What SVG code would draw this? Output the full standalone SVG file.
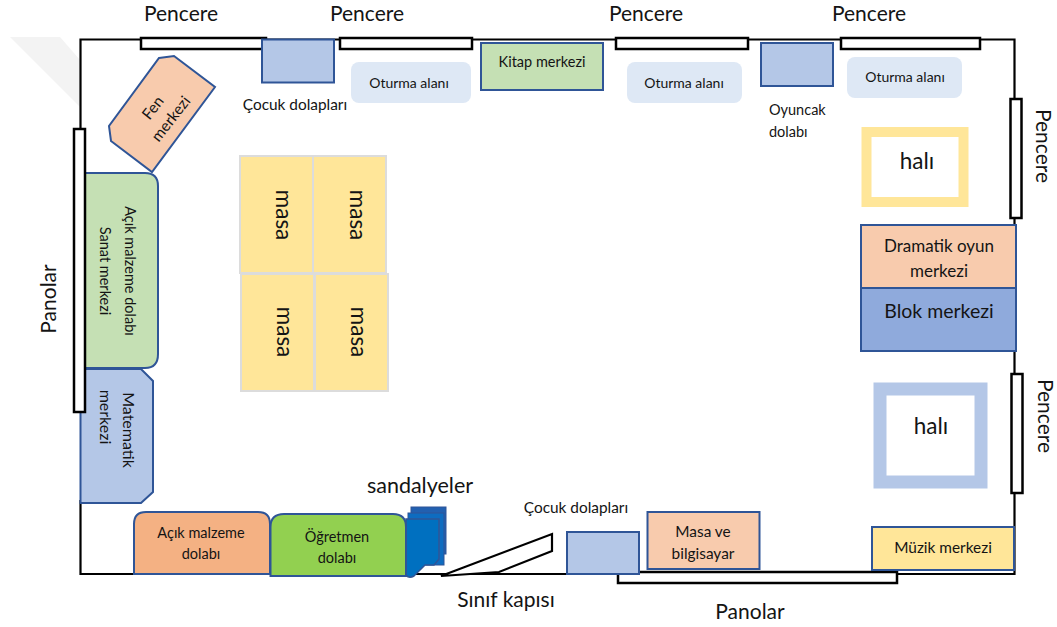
<svg xmlns="http://www.w3.org/2000/svg" width="1057" height="627" viewBox="0 0 1057 627">
<style>
text{font-family:Lato,"Liberation Sans",sans-serif;fill:#141414;text-anchor:middle}
.s{text-anchor:start}
.t14{font-size:14px}.t12{font-size:14.500px}.t15{font-size:15.400px}.t20{font-size:21px}.t22{font-size:22.500px}
.wall{fill:none;stroke:#000;stroke-width:2.200}
.win{fill:#fff;stroke:#000;stroke-width:2.500}
.b{stroke:#2f5597;stroke-width:2}
.blue{fill:#b4c7e7}.peach{fill:#f8cbad}.green{fill:#c5e0b4}.yellow{fill:#ffe699}
.seat{fill:#dee8f5}
.masa{fill:#ffe699;stroke:#dcdcdc;stroke-width:2}
</style>
<rect width="1057" height="627" fill="#fff"/>
<polygon id="watermark" points="10,37 60,37 80,60 80,107" fill="#f3f3f3"/>
<g id="connectors">
<path id="room-walls" class="wall" d="M80.500 129V39.500H1014.500V574H80.500V500"/>
</g>
<g id="windows">
<rect id="window-1" class="win" x="141" y="38" width="125" height="11"/>
<rect id="window-2" class="win" x="340" y="38" width="132" height="11"/>
<rect id="window-3" class="win" x="616" y="38" width="132" height="11"/>
<rect id="window-4" class="win" x="841" y="38" width="139" height="11"/>
<rect id="window-5" class="win" x="1010.500" y="99" width="11" height="119"/>
<rect id="window-6" class="win" x="1011.500" y="374" width="11" height="119"/>
<text class="t20" x="181" y="21">Pencere</text>
<text class="t20" x="367" y="21">Pencere</text>
<text class="t20" x="646" y="21">Pencere</text>
<text class="t20" x="869" y="21">Pencere</text>
<text class="t20" transform="translate(1036,146) rotate(90)">Pencere</text>
<text class="t20" transform="translate(1038,416) rotate(90)">Pencere</text>
</g>
<g id="panel-bottom"><rect class="win" x="618" y="572" width="279" height="11"/><text class="t20" x="750" y="619">Panolar</text></g>
<g id="cocuk-dolaplari-1"><rect class="blue b" x="262" y="39.500" width="72" height="43"/><text class="t15" x="295" y="110">Çocuk dolapları</text></g>
<g id="oturma-1"><rect class="seat" x="351" y="62" width="120" height="41" rx="8"/><text class="t14" x="409" y="88">Oturma alanı</text></g>
<g id="kitap"><rect class="green b" x="481" y="43" width="122" height="47"/><text class="t12" x="542" y="67">Kitap merkezi</text></g>
<g id="oturma-2"><rect class="seat" x="627" y="62" width="115" height="41" rx="8"/><text class="t14" x="684" y="88">Oturma alanı</text></g>
<g id="oyuncak"><rect class="blue b" x="761" y="43" width="72" height="43"/><text class="t12 s" x="769" y="115">Oyuncak</text><text class="t12 s" x="769" y="137">dolabı</text></g>
<g id="oturma-3"><rect class="seat" x="847" y="57" width="115" height="41" rx="8"/><text class="t14" x="905" y="82">Oturma alanı</text></g>
<g id="hali-1"><rect x="866.500" y="132" width="97" height="70" fill="#fff" stroke="#ffe699" stroke-width="10"/><text class="t22" x="917" y="169">halı</text></g>
<g id="dramatik"><rect class="peach b" x="861" y="225" width="155" height="63"/><text x="939" y="252" font-size="17">Dramatik oyun</text><text x="939" y="277" font-size="17">merkezi</text></g>
<g id="blok"><rect x="861" y="288" width="155" height="63" fill="#8faadc" stroke="#2f5597" stroke-width="2"/><text x="939" y="318" font-size="19.500">Blok merkezi</text></g>
<g id="hali-2"><rect x="880" y="389" width="101" height="93" fill="#fff" stroke="#b4c7e7" stroke-width="13"/><text class="t22" x="931" y="434">halı</text></g>
<g id="muzik"><rect class="yellow b" x="872" y="527" width="142" height="43"/><text class="t15" x="943" y="553">Müzik merkezi</text></g>
<g id="masa-bilgisayar"><rect class="peach b" x="647.500" y="512" width="112" height="57"/><text class="t15" x="703" y="537">Masa ve</text><text class="t15" x="703" y="559">bilgisayar</text></g>
<g id="cocuk-dolaplari-2"><rect class="blue b" x="567" y="532" width="72" height="42"/><text class="t15" x="576" y="513">Çocuk dolapları</text></g>
<g id="kapi"><path d="M441 576L552 534V551L499 572Z" fill="#fff" stroke="#000" stroke-width="2.200"/><text x="506" y="607" font-size="21">Sınıf kapısı</text></g>
<g id="sandalyeler">
<rect x="411" y="507" width="35" height="47" fill="#2260b0" stroke="#2f5597"/>
<rect x="408" y="513" width="36" height="52" fill="#0e6cc0" stroke="#2f5597"/>
<path d="M406 519H439V559L434 565H425L414 576Q409 579 406 575Z" fill="#0070c0" stroke="#2f5597" stroke-width="1.500"/>
<text x="420" y="493" font-size="21.500">sandalyeler</text>
</g>
<g id="ogretmen"><path class="b" d="M270.500 576V527Q270.500 514 284 514H393Q406 514 406 527V576Z" fill="#92d050"/><text class="t12" x="337" y="542">Öğretmen</text><text class="t12" x="337" y="563">dolabı</text></g>
<g id="acik-malzeme"><path class="b" d="M134 574V524Q134 512 146 512H258Q270 512 270 524V574Z" fill="#f4b183"/><text class="t12" x="201" y="538">Açık malzeme</text><text class="t12" x="201" y="559">dolabı</text></g>
<g id="matematik"><path class="blue b" d="M80.500 369H141L153 381V492L141 503H80.500Z"/><text font-size="16" transform="translate(123,430) rotate(90)">Matematik</text><text font-size="16" transform="translate(100,417) rotate(90)">merkezi</text></g>
<g id="sanat"><path class="b green" d="M85 173H145Q158 173 158 186V354Q158 368 145 368H85Z"/><text class="t12" transform="translate(125,271) rotate(90)">Açık malzeme dolabı</text><text class="t12" transform="translate(100,271) rotate(90)">Sanat merkezi</text></g>
<g id="panel-left"><rect class="win" x="74" y="129" width="11" height="283"/><text class="t20" transform="translate(56,299) rotate(-90)">Panolar</text></g>
<g id="fen"><path class="peach b" d="M159 58L174 56L215 87L152 172L111 141L109 126Z"/><text class="t15" transform="translate(157,111) rotate(-52)">Fen</text><text class="t15" transform="translate(175,122) rotate(-52)">merkezi</text></g>
<g id="masa-1"><rect class="masa" x="240" y="156" width="73" height="117"/><text class="t22" transform="translate(276,215) rotate(90)">masa</text></g>
<g id="masa-2"><rect class="masa" x="313" y="156" width="73" height="117"/><text class="t22" transform="translate(350,215) rotate(90)">masa</text></g>
<g id="masa-3"><rect class="masa" x="241" y="274" width="73" height="117"/><text class="t22" transform="translate(277,332) rotate(90)">masa</text></g>
<g id="masa-4"><rect class="masa" x="315" y="274" width="73" height="117"/><text class="t22" transform="translate(351,332) rotate(90)">masa</text></g>
</svg>
